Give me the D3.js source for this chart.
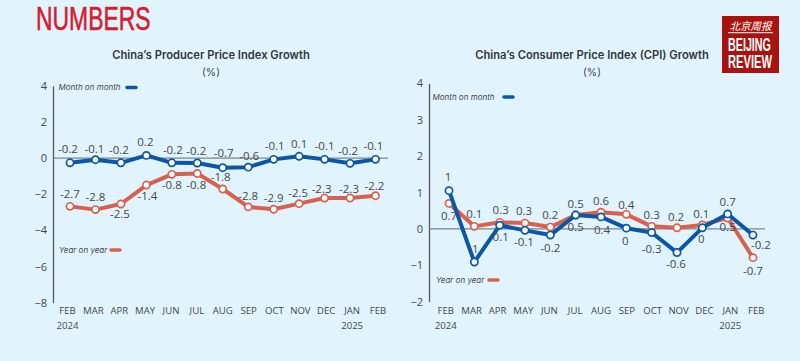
<!DOCTYPE html>
<html>
<head>
<meta charset="utf-8">
<script src="https://cdn.jsdelivr.net/npm/d3@7/dist/d3.min.js"></script>
<style>
  html, body { margin: 0; padding: 0; background: #e1f4fd; }
  svg { display: block; }
</style>
</head>
<body>
<div id="container"></div>
<script>
// months along both x axes
let months = ["FEB", "MAR", "APR", "MAY", "JUN", "JUL", "AUG", "SEP", "OCT", "NOV", "DEC", "JAN", "FEB"];
let yearLabels = ["2024", "", "", "", "", "", "", "", "", "", "", "2025", ""];
let monthIds = months.map(function(d, i){ return i; });

let ppiTicks = [4, 2, 0, -2, -4, -6, -8];
let cpiTicks = [4, 3, 2, 1, 0, -1, -2];

// where the lines sit in the picture (they don't always agree with the printed numbers)
let ppiMom = [-0.26, -0.09, -0.26, 0.15, -0.26, -0.27, -0.53, -0.5, -0.07, 0.1, -0.07, -0.29, -0.07];
let ppiYoy = [-2.67, -2.85, -2.54, -1.49, -0.9, -0.85, -1.71, -2.7, -2.83, -2.52, -2.21, -2.21, -2.08];
let cpiMom = [1.05, -0.91, 0.1, -0.04, -0.17, 0.38, 0.33, 0.02, -0.1, -0.65, 0.03, 0.41, -0.17];
let cpiYoy = [0.7, 0.07, 0.18, 0.16, 0.05, 0.38, 0.46, 0.4, 0.07, 0.03, 0.11, 0.3, -0.79];

// printed numbers
let ppiMomText = ["-0.2", "-0.1", "-0.2", "0.2", "-0.2", "-0.2", "-0.7", "-0.6", "-0.1", "0.1", "-0.1", "-0.2", "-0.1"];
let ppiYoyText = ["-2.7", "-2.8", "-2.5", "-1.4", "-0.8", "-0.8", "-1.8", "-2.8", "-2.9", "-2.5", "-2.3", "-2.3", "-2.2"];
let cpiMomText = ["1", "-1", "0.1", "-0.1", "-0.2", "0.5", "0.4", "0", "-0.3", "-0.6", "0", "0.7", "-0.2"];
let cpiYoyText = ["0.7", "0.1", "0.3", "0.3", "0.2", "0.5", "0.6", "0.4", "0.3", "0.2", "0.1", "0.5", "-0.7"];

let w = 800;
let h = 361;
let blue = "#0b57a6";
let red = "#d9604f";
let ink = "#45474b";
let labelFont = "'Open Sans', sans-serif";
let squeezedFont = "'Liberation Sans', sans-serif";

// label nudges from each point, [dx, dy]
let ppiMomNudge = [[-2,-14],[-1,-11],[-2,-13],[-1,-13],[1,-13],[-1,-12],[1,-15],[1,-11],[1,-13],[0,-12],[0,-13],[-2,-12],[-2,-13]];
let ppiYoyNudge = [[0,-12],[0,-13],[-1,10],[1,11],[0,11],[-1,12],[-2,-12],[0,-11],[0,-11],[-1,-11],[-3,-9],[-1,-9],[-1,-10]];
let cpiMomNudge = [[-1,-14],[-1,-13],[1,12],[-1,12],[0,13],[0,12],[1,13],[-1,13],[0,16],[-1,11],[-1,11],[0,-12],[8,10]];
let cpiYoyNudge = [[0,13],[0,-12],[1,-12],[-1,-12],[0,-12],[0,-11],[0,-11],[0,-9],[0,-11],[-1,-11],[-1,-11],[0,9],[0,13]];

let viz = d3.select("#container")
  .append("svg")
    .attr("width", w)
    .attr("height", h)
;

viz.append("rect")
  .attr("width", w)
  .attr("height", h)
  .attr("fill", "#e1f4fd")
;

viz.append("text")
  .text("NUMBERS")
  .attr("transform", "translate(36, 29.5) scale(0.695, 1)")
  .attr("font-family", squeezedFont)
  .attr("font-size", 33)
  .attr("fill", "#d3202f")
  .attr("stroke", "#d3202f")
  .attr("stroke-width", 0.6)
;

function drawChart(opt){
  let g = viz.append("g");

  let yScale = d3.scaleLinear().domain(opt.yDomain).range(opt.yRange);
  let xScale = d3.scalePoint().domain(monthIds).range(opt.xRange);
  let monthScale = d3.scalePoint().domain(monthIds).range(opt.monthRange);

  g.append("text")
    .text(opt.title)
    .attr("x", opt.titleX)
    .attr("y", 58.5)
    .attr("text-anchor", "middle")
    .attr("font-family", "Inter, sans-serif")
    .attr("font-weight", 600)
    .attr("font-size", 11.2)
    .attr("fill", "#33353a")
  ;
  g.append("text")
    .text("(%)")
    .attr("x", opt.titleX)
    .attr("y", 76)
    .attr("text-anchor", "middle")
    .attr("font-family", "Inter, sans-serif")
    .attr("font-size", 10.5)
    .attr("fill", ink)
  ;

  // y axis, only the line and the numbers
  let yAxis = d3.axisLeft(yScale).tickValues(opt.ticks).tickSize(0).tickPadding(6).tickFormat(d3.format("d"));
  let yAxisGroup = g.append("g")
    .attr("transform", "translate(" + opt.axisX + ", 0)")
    .call(yAxis)
  ;
  yAxisGroup.select(".domain").attr("stroke", "#55575b").attr("stroke-width", 1.3);
  yAxisGroup.selectAll("text")
    .attr("font-family", labelFont)
    .attr("font-size", 11)
    .attr("fill", ink)
  ;

  // zero line
  g.append("line")
    .attr("x1", opt.axisX)
    .attr("x2", opt.zeroEnd)
    .attr("y1", yScale(0))
    .attr("y2", yScale(0))
    .attr("stroke", "#66686c")
    .attr("stroke-width", 1)
  ;

  // months and years under the plot
  let xAxis = d3.axisBottom(monthScale).tickSize(0).tickPadding(0).tickFormat(function(d){ return months[d]; });
  let xAxisGroup = g.append("g")
    .attr("transform", "translate(0, 307)")
    .call(xAxis)
  ;
  xAxisGroup.select(".domain").remove();
  xAxisGroup.selectAll("text")
    .attr("font-family", labelFont)
    .attr("font-size", 9.6)
    .attr("fill", ink)
  ;
  let yearAxis = d3.axisBottom(monthScale).tickSize(0).tickPadding(0).tickFormat(function(d){ return yearLabels[d]; });
  let yearAxisGroup = g.append("g")
    .attr("transform", "translate(0, 322)")
    .call(yearAxis)
  ;
  yearAxisGroup.select(".domain").remove();
  yearAxisGroup.selectAll("text")
    .attr("font-family", labelFont)
    .attr("font-size", 9.6)
    .attr("fill", ink)
  ;

  let line = d3.line()
    .x(function(d, i){ return xScale(i); })
    .y(function(d){ return yScale(d); })
  ;

  opt.series.forEach(function(s){
    g.append("path")
      .datum(s.values)
      .attr("d", line)
      .attr("fill", "none")
      .attr("stroke", s.color)
      .attr("stroke-width", 4)
      .attr("stroke-linejoin", "round")
    ;
    g.selectAll(null)
      .data(s.values)
      .enter()
      .append("circle")
        .attr("cx", function(d, i){ return xScale(i); })
        .attr("cy", function(d){ return yScale(d); })
        .attr("r", 3.6)
        .attr("fill", "white")
        .attr("stroke", s.color)
        .attr("stroke-width", 1.7)
    ;
  });

  // numbers go on top of all the lines
  opt.series.forEach(function(s){
    g.selectAll(null)
      .data(s.values)
      .enter()
      .append("text")
        .text(function(d, i){ return s.text[i]; })
        .attr("x", function(d, i){ return xScale(i) + s.nudge[i][0]; })
        .attr("y", function(d, i){ return yScale(d) + s.nudge[i][1]; })
        .attr("dy", "0.35em")
        .attr("text-anchor", "middle")
        .attr("font-family", labelFont)
        .attr("font-size", 11.5)
        .attr("fill", ink)
    ;
  });

  // legend
  opt.legend.forEach(function(l){
    g.append("text")
      .text(l.name)
      .attr("x", l.x)
      .attr("y", l.y)
      .attr("dy", "0.32em")
      .attr("font-family", "Inter, sans-serif")
      .attr("font-style", "italic")
      .attr("font-size", 8)
      .attr("fill", ink)
    ;
    g.append("line")
      .attr("x1", l.keyX)
      .attr("x2", l.keyX + 9)
      .attr("y1", l.y)
      .attr("y2", l.y)
      .attr("stroke", l.color)
      .attr("stroke-width", 3.5)
      .attr("stroke-linecap", "round")
    ;
  });
}

drawChart({
  title: "China\u2019s Producer Price Index Growth",
  titleX: 211,
  yDomain: [-8, 4],
  yRange: [302.7, 85.8],
  ticks: ppiTicks,
  axisX: 53,
  zeroEnd: 388,
  xRange: [70, 375.5],
  monthRange: [67, 377.5],
  series: [
    {values: ppiMom, text: ppiMomText, nudge: ppiMomNudge, color: blue},
    {values: ppiYoy, text: ppiYoyText, nudge: ppiYoyNudge, color: red}
  ],
  legend: [
    {name: "Month on month", x: 58.5, y: 87.5, keyX: 127, color: blue},
    {name: "Year on year", x: 59, y: 250, keyX: 111, color: red}
  ]
});

drawChart({
  title: "China\u2019s Consumer Price Index (CPI) Growth",
  titleX: 592,
  yDomain: [-2, 4],
  yRange: [301.7, 83.3],
  ticks: cpiTicks,
  axisX: 429,
  zeroEnd: 765,
  xRange: [449, 753],
  monthRange: [445.3, 755.7],
  series: [
    {values: cpiYoy, text: cpiYoyText, nudge: cpiYoyNudge, color: red},
    {values: cpiMom, text: cpiMomText, nudge: cpiMomNudge, color: blue}
  ],
  legend: [
    {name: "Month on month", x: 432.5, y: 97, keyX: 504, color: blue},
    {name: "Year on year", x: 436, y: 280, keyX: 489, color: red}
  ]
});

// Beijing Review logo
let logo = viz.append("g").attr("transform", "translate(722, 16)");
logo.append("rect")
  .attr("width", 57)
  .attr("height", 57)
  .attr("fill", "#a8130f")
;
logo.append("text")
  .text("北京周报")
  .attr("x", 28.5)
  .attr("y", 13.5)
  .attr("text-anchor", "middle")
  .attr("font-family", "'Noto Sans CJK SC', sans-serif")
  .attr("font-style", "italic")
  .attr("font-size", 10.5)
  .attr("fill", "white")
;
logo.append("line")
  .attr("x1", 6)
  .attr("x2", 51)
  .attr("y1", 16.7)
  .attr("y2", 16.7)
  .attr("stroke", "white")
  .attr("stroke-width", 1)
;
logo.append("text")
  .text("BEIJING")
  .attr("transform", "translate(6, 35) scale(0.565, 1)")
  .attr("font-family", squeezedFont)
  .attr("font-weight", "bold")
  .attr("font-size", 19)
  .attr("fill", "white")
;
logo.append("text")
  .text("REVIEW")
  .attr("transform", "translate(6, 51.5) scale(0.587, 1)")
  .attr("font-family", squeezedFont)
  .attr("font-weight", "bold")
  .attr("font-size", 19)
  .attr("fill", "white")
;
</script>
</body>
</html>
